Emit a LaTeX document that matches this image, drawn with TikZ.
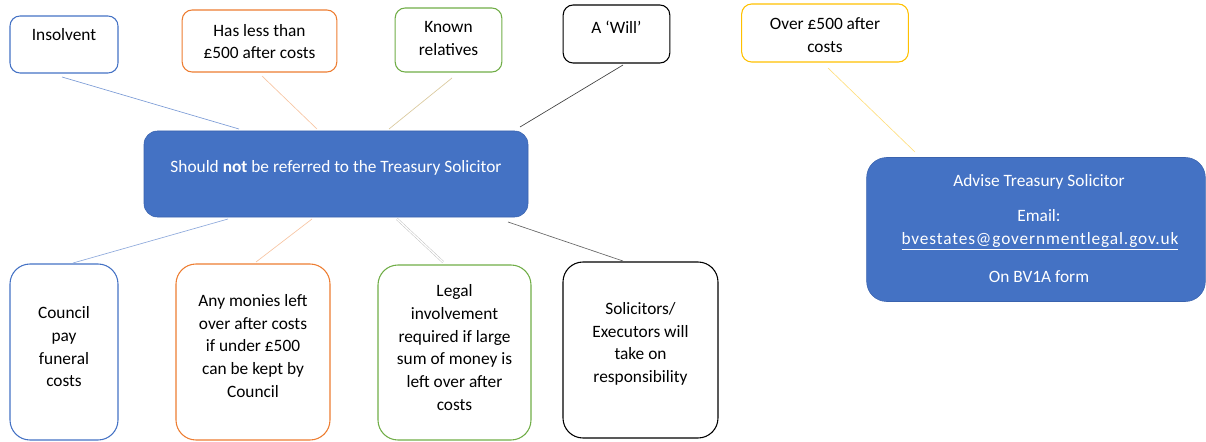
\documentclass[tikz,border=0pt]{standalone}
\usepackage{fontspec}
\setmainfont{Carlito}
\newfontfamily\urlfont[LetterSpace=5]{Carlito}
\usetikzlibrary{calc}
\definecolor{oblue}{HTML}{4472C4}
\definecolor{oblueb}{HTML}{3A63AE}
\definecolor{oorange}{HTML}{ED7D31}
\definecolor{ogreen}{HTML}{70AD47}
\definecolor{oyellow}{HTML}{FFC000}
\begin{document}
\begin{tikzpicture}[x=0.75pt,y=-0.75pt,
  box/.style={draw,line width=0.8pt,rounded corners=7.5pt,minimum width=#1},
  tall/.style={draw,line width=0.8pt,rounded corners=15pt},
  txt/.style={font=\fontsize{13}{17}\selectfont,align=center,inner sep=0pt},
  wtxt/.style={txt,text=white},
  conn/.style={line width=0.5pt}]
\useasboundingbox (0,0) rectangle (1206,442);
% top boxes
\node[box=81pt,draw=oblue,minimum height=42.75pt] (ins) at (64,44.5) {};
\node[txt,anchor=center] (inst) at (64,35) {Insolvent};
\node[box=116pt,draw=oorange,minimum height=46.5pt] (less) at (259.5,41) {};
\node[txt] (lesst) at (259.5,41.5) {Has less than\\£500 after costs};
\node[box=80pt,draw=ogreen,minimum height=48pt] (known) at (448.5,40) {};
\node[txt] (knownt) at (448.5,38.5) {Known\\relatives};
\node[box=80pt,draw=black,minimum height=43.5pt] (will) at (616.5,34) {};
\node[txt] (willt) at (616.5,27) {A ‘Will’};
\node[box=125pt,draw=oyellow,minimum height=43.5pt] (over) at (825,33) {};
\node[txt] (overt) at (825,35) {Over £500 after\\costs};
% main boxes
\node[draw=oblueb,fill=oblue,rounded corners=10pt,minimum width=288pt,minimum height=64.5pt] (main) at (336,174) {};
\node[wtxt] (maint) at (336,168) {Should \textbf{not} be referred to the Treasury Solicitor};
\node[draw=oblueb,fill=oblue,rounded corners=15pt,minimum width=254pt,minimum height=108pt] (adv) at (1036,229.5) {};
\node[wtxt] (advt1) at (1039,182) {Advise Treasury Solicitor};
\node[wtxt] (advt2) at (1039,216) {Email:};
\node[wtxt] (advt3) at (1040,241) {\urlfont\underline{bvestates@governmentlegal.gov.uk}};
\node[wtxt] (advt4) at (1039,277) {On BV1A form};
% bottom boxes
\node[tall,draw=oblue,minimum width=81pt,minimum height=132pt] (council) at (64,352) {};
\node[txt] (councilt) at (64,347) {Council\\pay\\funeral\\costs};
\node[tall,draw=oorange,minimum width=115.5pt,minimum height=132pt] (monies) at (253,352) {};
\node[txt] (moniest) at (253,346) {Any monies left\\over after costs\\if under £500\\can be kept by\\Council};
\node[tall,draw=ogreen,minimum width=114.75pt,minimum height=131.25pt] (legal) at (454.5,352.5) {};
\node[txt] (legalt) at (454.5,347.5) {Legal\\involvement\\required if large\\sum of money is\\left over after\\costs};
\node[tall,draw=black,minimum width=116.25pt,minimum height=132pt] (sol) at (640.5,350) {};
\node[txt] (solt) at (640.5,344) {Solicitors/\\Executors will\\take on\\responsibility};
% connector end points
\coordinate (c1a) at (62,77); \coordinate (c1b) at (239,129);
\coordinate (c2a) at (262,76); \coordinate (c2b) at (317,129);
\coordinate (c3a) at (452,78); \coordinate (c3b) at (389,129);
\coordinate (c4a) at (623,65); \coordinate (c4b) at (520,127);
\coordinate (c5a) at (828,68); \coordinate (c5b) at (915,152);
\coordinate (b1a) at (228,219); \coordinate (b1b) at (73,263);
\coordinate (b2a) at (312,219); \coordinate (b2b) at (256,262);
\coordinate (b3a) at (397,219); \coordinate (b3b) at (443,262);
\coordinate (b4a) at (508,222); \coordinate (b4b) at (623,261);
\draw[conn,draw=oblue!70] (c1a) -- (c1b);
\draw[conn,draw=oorange!45] (c2a) -- (c2b);
\draw[conn,draw=ogreen!45!oorange!50] (c3a) -- (c3b);
\draw[conn,draw=black!75] (c4a) -- (c4b);
\draw[conn,draw=oyellow!50] (c5a) -- (c5b);
\draw[conn,draw=oblue!60] (b1a) -- (b1b);
\draw[conn,draw=oorange!45] (b2a) -- (b2b);
\draw[conn,draw=black!25,double=white,double distance=1pt,line width=0.35pt] (b3a) -- (b3b);
\draw[conn,draw=black!60] (b4a) -- (b4b);
\end{tikzpicture}
\end{document}
